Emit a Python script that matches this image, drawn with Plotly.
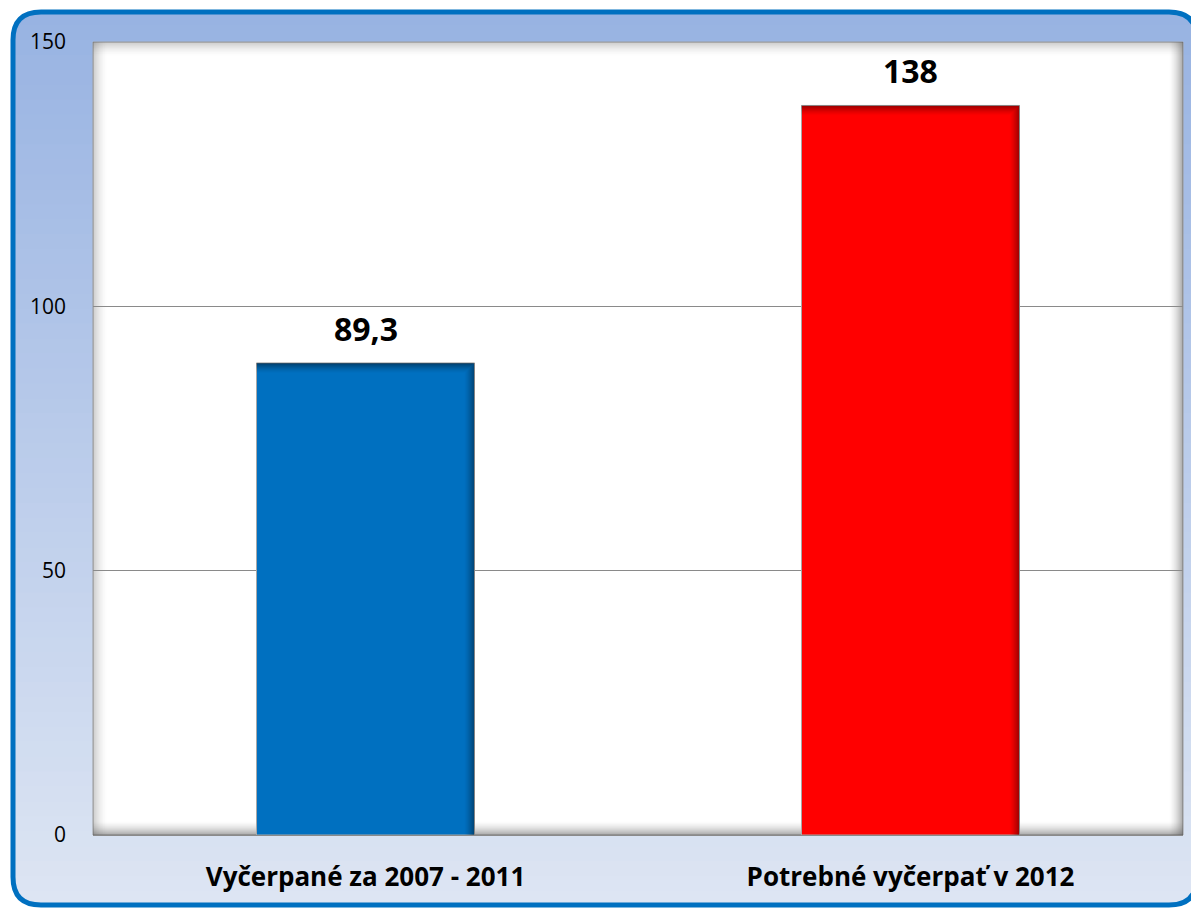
import plotly.graph_objects as go

categories = ["Vyčerpané za 2007 - 2011", "Potrebné vyčerpať v 2012"]
values = [89.3, 138]
bar_colors = ["#0070C0", "#FF0000"]
y_ticks = [0, 50, 100, 150]
value_labels = ["89,3", "138"]

# page body has an 8px margin, so the figure is drawn 8px smaller
OFF = 8
W, H = 1199 - OFF, 908 - OFF
ML, MR, MT, MB = 85, 16, 34, 73
PW = W - ML - MR
PH = H - MT - MB
Y_MAX = 150
BAR_W = 0.4


def px_x(p):
    return (p - ML) / PW


def px_y(p):
    return (H - MB - p) / PH


shapes = []

# gradient background (strips)
top_c = (152, 179, 226)
bot_c = (221, 229, 243)
n = 60
y0p, y1p = 2, 898
for i in range(n):
    a = y0p + (y1p - y0p) * i / n
    b = y0p + (y1p - y0p) * (i + 1) / n + 1
    t = i / (n - 1)
    c = tuple(int(round(top_c[k] + (bot_c[k] - top_c[k]) * t)) for k in range(3))
    shapes.append(dict(type="rect", xref="paper", yref="paper", layer="below",
                       x0=px_x(6), x1=px_x(1187), y0=px_y(b), y1=px_y(a),
                       fillcolor="rgb(%d,%d,%d)" % c, line=dict(width=0)))


def rounded_path(x0, y0, x1, y1, r):
    def P(x, y):
        return "%f,%f" % (px_x(x), px_y(y))
    return ("M " + P(x0 + r, y0) + " L " + P(x1 - r, y0) +
            " Q " + P(x1, y0) + " " + P(x1, y0 + r) +
            " L " + P(x1, y1 - r) + " Q " + P(x1, y1) + " " + P(x1 - r, y1) +
            " L " + P(x0 + r, y1) + " Q " + P(x0, y1) + " " + P(x0, y1 - r) +
            " L " + P(x0, y0 + r) + " Q " + P(x0, y0) + " " + P(x0 + r, y0) + " Z")


BX0, BY0, BX1, BY1 = 5, 4, 1189, 897
outer = ("M %f,%f L %f,%f L %f,%f L %f,%f Z " % (px_x(-2), px_y(-2), px_x(W + 2), px_y(-2),
                                                   px_x(W + 2), px_y(H + 2), px_x(-2), px_y(H + 2)))
shapes.append(dict(type="path", xref="paper", yref="paper", layer="below",
                   path=outer + rounded_path(BX0, BY0, BX1, BY1, 28),
                   fillcolor="white", fillrule="evenodd", line=dict(width=0)))
shapes.append(dict(type="path", xref="paper", yref="paper", layer="below",
                   path=rounded_path(BX0, BY0, BX1, BY1, 28),
                   fillcolor="rgba(0,0,0,0)", line=dict(color="#0070C0", width=5)))

# white plot area
shapes.append(dict(type="rect", xref="paper", yref="paper", layer="below",
                   x0=0, x1=1, y0=0, y1=1, fillcolor="white",
                   line=dict(color="#9A9A9A", width=1)))

# inner shadow of plot area (lighter on top/left, stronger on right/bottom)
steps = 14
for i in range(steps):
    f = (1 - i / steps) ** 1.6
    col_l = "rgba(90,90,90,%.3f)" % (0.30 * f)
    col_s = "rgba(80,80,80,%.3f)" % (0.48 * f)
    shapes.append(dict(type="rect", xref="paper", yref="paper", layer="below",
                       x0=0, x1=1, y0=px_y(MT + i + 1), y1=px_y(MT + i),
                       fillcolor=col_l, line=dict(width=0)))
    shapes.append(dict(type="rect", xref="paper", yref="paper", layer="below",
                       x0=px_x(ML + i), x1=px_x(ML + i + 1), y0=0, y1=1,
                       fillcolor=col_l, line=dict(width=0)))
    shapes.append(dict(type="rect", xref="paper", yref="paper", layer="below",
                       x0=px_x(W - MR - i - 1), x1=px_x(W - MR - i), y0=0, y1=1,
                       fillcolor=col_s, line=dict(width=0)))
    shapes.append(dict(type="rect", xref="paper", yref="paper", layer="below",
                       x0=0, x1=1, y0=px_y(H - MB - i), y1=px_y(H - MB - i - 1),
                       fillcolor=col_s, line=dict(width=0)))

# bevel shading on bars (top and right edges), derived from the data arrays
px_per_unit_y = PH / Y_MAX
px_per_cat = PW / len(categories)
for idx, v in enumerate(values):
    xl = idx - BAR_W / 2
    xr = idx + BAR_W / 2
    for i in range(10):
        op = 0.42 * (1 - i / 10) ** 1.5
        col = "rgba(0,0,0,%.3f)" % op
        shapes.append(dict(type="rect", xref="x", yref="y", layer="above",
                           x0=xl, x1=xr - (i + 1) / px_per_cat,
                           y0=v - (i + 1) / px_per_unit_y, y1=v - i / px_per_unit_y,
                           fillcolor=col, line=dict(width=0)))
        shapes.append(dict(type="rect", xref="x", yref="y", layer="above",
                           x0=xr - (i + 1) / px_per_cat, x1=xr - i / px_per_cat,
                           y0=0, y1=v - i / px_per_unit_y,
                           fillcolor=col, line=dict(width=0)))

fig = go.Figure()
fig.add_trace(go.Bar(
    x=list(range(len(categories))), y=values,
    marker=dict(color=bar_colors, line=dict(color="#A8A8A8", width=1)),
    width=BAR_W, hoverinfo="skip",
))

annotations = []
for idx, (v, lab) in enumerate(zip(values, value_labels)):
    annotations.append(dict(x=idx, y=v, xref="x", yref="y", text="<b>%s</b>" % lab,
                            showarrow=False, yanchor="bottom", yshift=11,
                            font=dict(family="Open Sans", size=32, color="black")))

fig.update_layout(
    width=W, height=H,
    margin=dict(l=ML, r=MR, t=MT, b=MB, pad=0),
    paper_bgcolor="white",
    plot_bgcolor="white",
    separators=",.",
    showlegend=False,
    shapes=shapes,
    annotations=annotations,
    xaxis=dict(
        range=[-0.5, len(categories) - 0.5],
        tickvals=list(range(len(categories))), ticktext=categories,
        showgrid=False, zeroline=False, showline=False,
        tickfont=dict(family="Open Sans", size=26, color="black", weight="bold"),
        ticks="", ticklabelstandoff=24,
    ),
    yaxis=dict(
        range=[0, Y_MAX], tickvals=y_ticks, ticktext=[str(t) for t in y_ticks],
        showgrid=True, gridcolor="#8A8A8A", gridwidth=1,
        zeroline=True, zerolinecolor="#8A8A8A", zerolinewidth=1,
        showline=False, ticks="", ticklabelstandoff=26,
        tickfont=dict(family="Open Sans", size=21, color="black"),
    ),
)

fig.write_html("out.html")
